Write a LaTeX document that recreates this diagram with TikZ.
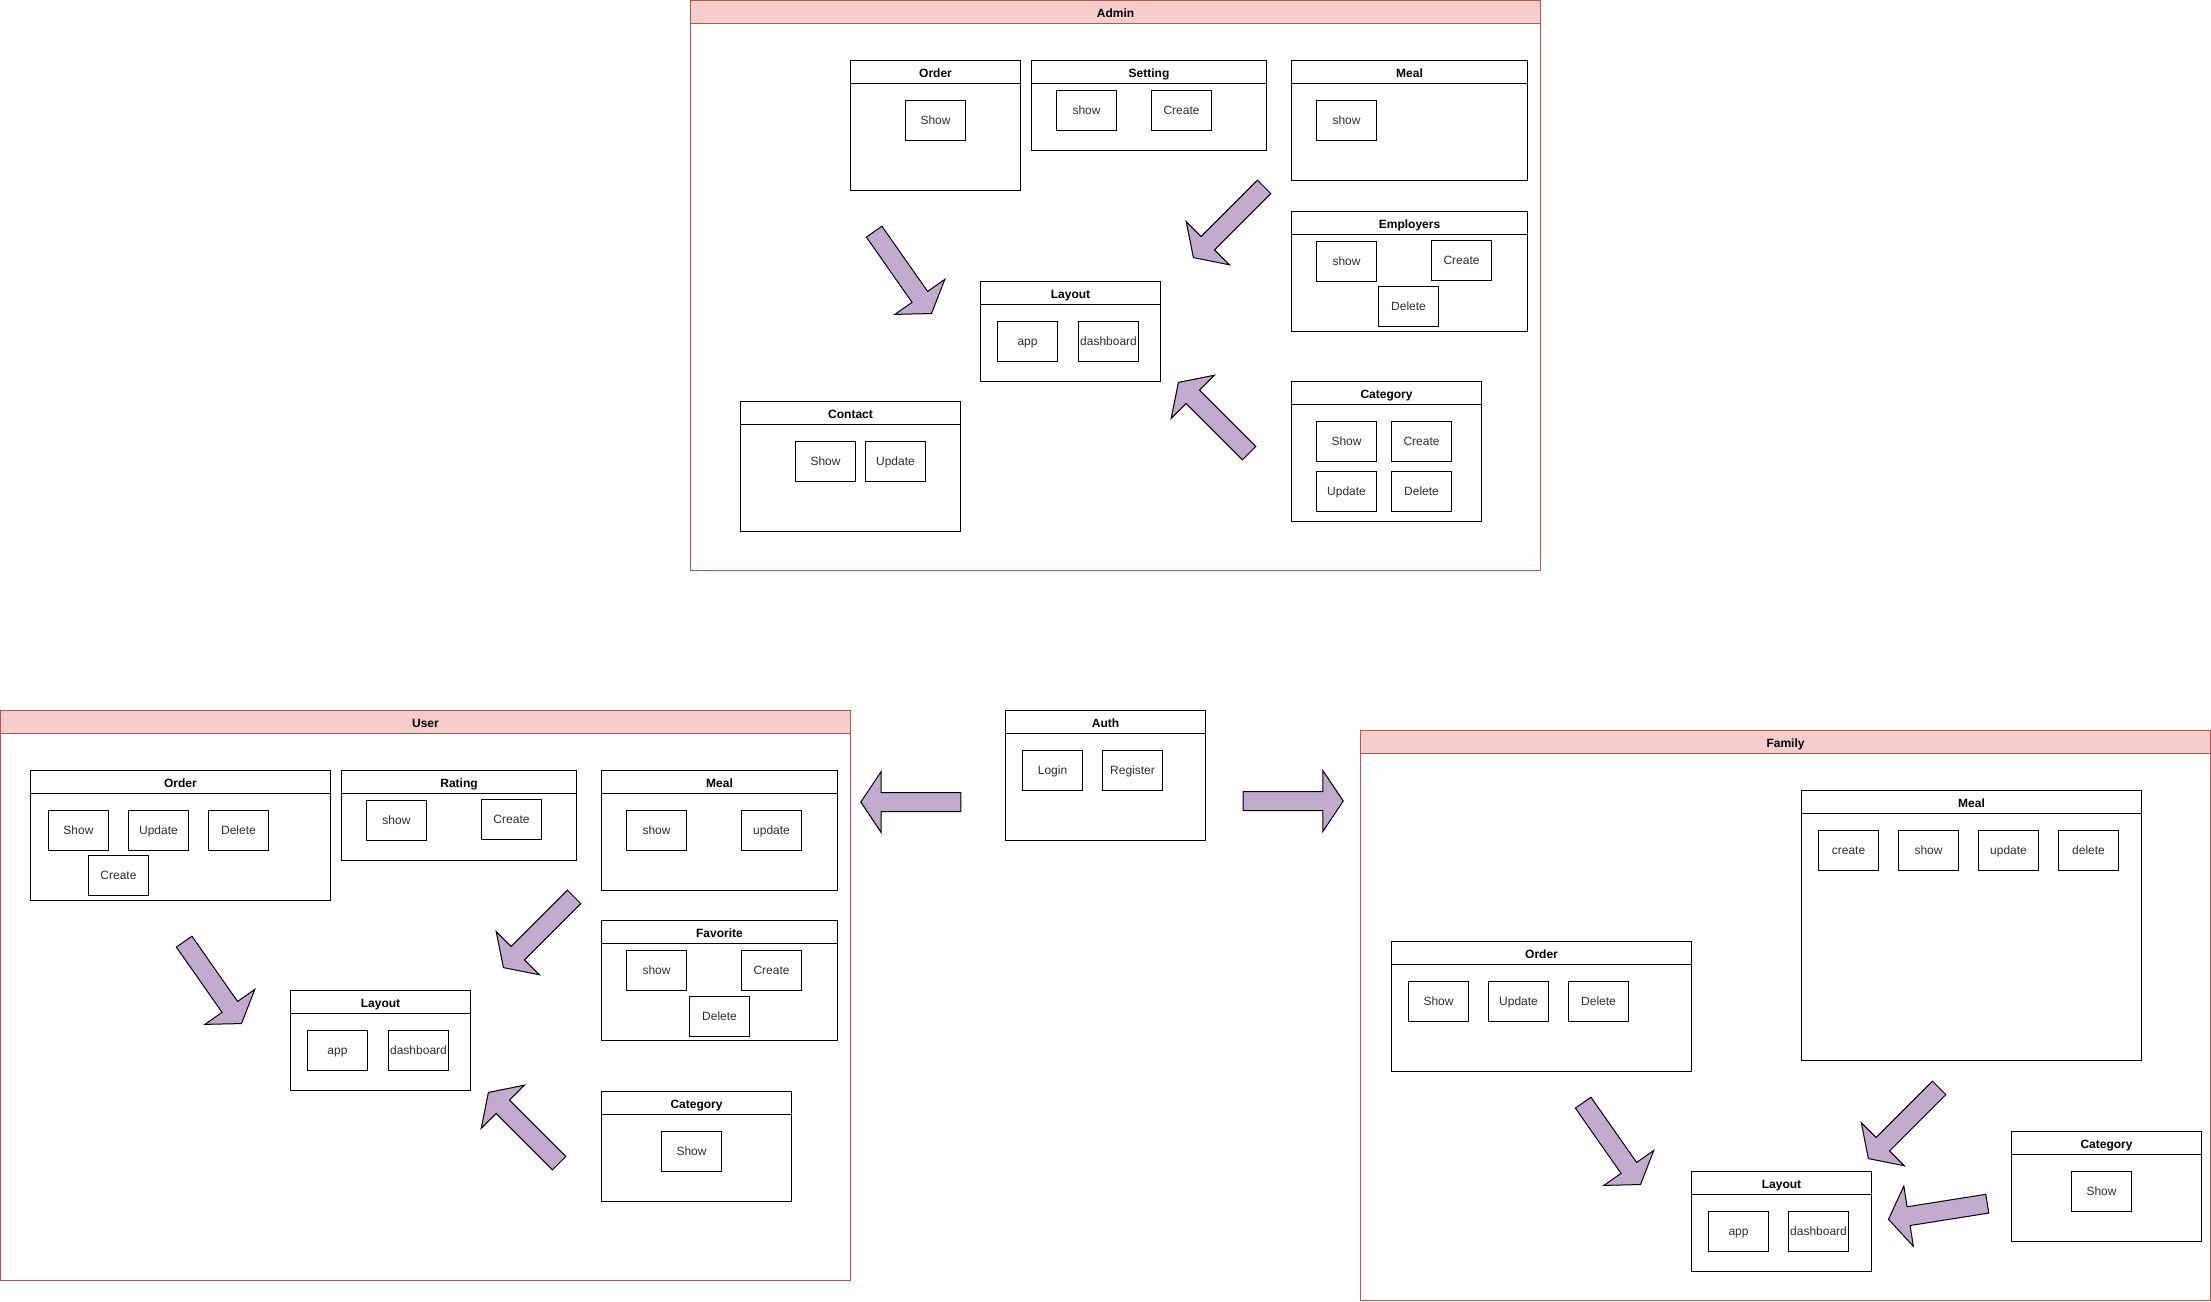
\documentclass[tikz,border=0pt]{standalone}
\usepackage{fontspec}
\setmainfont{Liberation Sans}
\usepackage{tikz}
\usetikzlibrary{shapes.arrows}
\usepackage{xcolor}
\definecolor{ColFrame}{RGB}{184,84,80}
\definecolor{ColHead}{RGB}{248,206,204}
\definecolor{ColArrow}{RGB}{195,171,208}
\definecolor{ColItem}{RGB}{45,45,45}
\tikzstyle{Frame}=[draw=ColFrame,anchor=north west,inner sep=0pt,minimum width=850pt,
minimum height=570pt]
\tikzstyle{FrameHead}=[draw=ColFrame,fill=ColHead,anchor=north west,inner sep=0pt,
minimum width=850pt,minimum height=23pt,text height=10pt,text depth=0pt,
font=\fontsize{12}{14}\selectfont\bfseries]
\tikzstyle{Lane}=[draw=black,anchor=north west,inner sep=0pt]
\tikzstyle{LaneHead}=[draw=black,anchor=north west,inner sep=0pt,minimum height=23pt,
text height=10pt,text depth=0pt,font=\fontsize{12}{14}\selectfont\bfseries]
\tikzstyle{Item}=[draw=black,anchor=north west,inner sep=0pt,minimum width=60pt,
minimum height=40pt,text height=8pt,text depth=0pt,text=ColItem]
\tikzstyle{BlockArrow}=[single arrow,draw=black,fill=ColArrow,inner xsep=0pt,
inner ysep=9pt,minimum height=100pt,single arrow head extend=21pt,
single arrow tip angle=112.6]

\begin{document}
\begin{tikzpicture}[x=1pt,y=-1pt,line width=1pt,font=\fontsize{12}{14}\selectfont]
        \useasboundingbox (0,0) rectangle (2211,1301);
        % Admin
        \node[Frame](admin)at(690,0){};
        \node[FrameHead](adminT)at(admin.north west){Admin};
        \node[Lane,minimum width=170pt,minimum height=130pt](aOrder)at(850,60){};
        \node[LaneHead,minimum width=170pt](aOrderT)at(aOrder.north west){Order};
        \node[Item](aOrderShow)at(905,100){Show};
        \node[Lane,minimum width=235pt,minimum height=90pt](aSetting)at(1031,60){};
        \node[LaneHead,minimum width=235pt](aSettingT)at(aSetting.north west){Setting};
        \node[Item](aSettingShow)at(1056,90){show};
        \node[Item](aSettingCreate)at(1151,90){Create};
        \node[Lane,minimum width=236pt,minimum height=120pt](aMeal)at(1291,60){};
        \node[LaneHead,minimum width=236pt](aMealT)at(aMeal.north west){Meal};
        \node[Item](aMealShow)at(1316,100){show};
        \node[Lane,minimum width=236pt,minimum height=120pt](aEmp)at(1291,211){};
        \node[LaneHead,minimum width=236pt](aEmpT)at(aEmp.north west){Employers};
        \node[Item](aEmpShow)at(1316,241){show};
        \node[Item](aEmpCreate)at(1431,240){Create};
        \node[Item](aEmpDelete)at(1378,286){Delete};
        \node[Lane,minimum width=180pt,minimum height=100pt](aLayout)at(980,281){};
        \node[LaneHead,minimum width=180pt](aLayoutT)at(aLayout.north west){Layout};
        \node[Item](aLayoutApp)at(997,321){app};
        \node[Item](aLayoutDash)at(1078,321){dashboard};
        \node[Lane,minimum width=220pt,minimum height=130pt](aContact)at(740,401){};
        \node[LaneHead,minimum width=220pt](aContactT)at(aContact.north west){Contact};
        \node[Item](aContactShow)at(795,441){Show};
        \node[Item](aContactUpdate)at(865,441){Update};
        \node[Lane,minimum width=190pt,minimum height=140pt](aCat)at(1291,381){};
        \node[LaneHead,minimum width=190pt](aCatT)at(aCat.north west){Category};
        \node[Item](aCatShow)at(1316,421){Show};
        \node[Item](aCatCreate)at(1391,421){Create};
        \node[Item](aCatUpdate)at(1316,471){Update};
        \node[Item](aCatDelete)at(1391,471){Delete};
        \node[BlockArrow,rotate=-55](aArrOrder)at(901,270){};
        \node[BlockArrow,rotate=-135](aArrMeal)at(1231,220){};
        \node[BlockArrow,rotate=135](aArrCat)at(1216,420){};
        % User
        \node[Frame](user)at(0,710){};
        \node[FrameHead](userT)at(user.north west){User};
        \node[Lane,minimum width=300pt,minimum height=130pt](uOrder)at(30,770){};
        \node[LaneHead,minimum width=300pt](uOrderT)at(uOrder.north west){Order};
        \node[Item](uOrderShow)at(48,810){Show};
        \node[Item](uOrderUpdate)at(128,810){Update};
        \node[Item](uOrderDelete)at(208,810){Delete};
        \node[Item](uOrderCreate)at(88,855){Create};
        \node[Lane,minimum width=235pt,minimum height=90pt](uRating)at(341,770){};
        \node[LaneHead,minimum width=235pt](uRatingT)at(uRating.north west){Rating};
        \node[Item](uRatingShow)at(366,800){show};
        \node[Item](uRatingCreate)at(481,799){Create};
        \node[Lane,minimum width=236pt,minimum height=120pt](uMeal)at(601,770){};
        \node[LaneHead,minimum width=236pt](uMealT)at(uMeal.north west){Meal};
        \node[Item](uMealShow)at(626,810){show};
        \node[Item](uMealUpdate)at(741,810){update};
        \node[Lane,minimum width=236pt,minimum height=120pt](uFav)at(601,920){};
        \node[LaneHead,minimum width=236pt](uFavT)at(uFav.north west){Favorite};
        \node[Item](uFavShow)at(626,950){show};
        \node[Item](uFavCreate)at(741,950){Create};
        \node[Item](uFavDelete)at(689,996){Delete};
        \node[Lane,minimum width=180pt,minimum height=100pt](uLayout)at(290,990){};
        \node[LaneHead,minimum width=180pt](uLayoutT)at(uLayout.north west){Layout};
        \node[Item](uLayoutApp)at(307,1030){app};
        \node[Item](uLayoutDash)at(388,1030){dashboard};
        \node[Lane,minimum width=190pt,minimum height=110pt](uCat)at(601,1091){};
        \node[LaneHead,minimum width=190pt](uCatT)at(uCat.north west){Category};
        \node[Item](uCatShow)at(661,1131){Show};
        \node[BlockArrow,rotate=-55](uArrOrder)at(211,980){};
        \node[BlockArrow,rotate=-135](uArrMeal)at(541,930){};
        \node[BlockArrow,rotate=135](uArrCat)at(526,1130){};
        % Auth
        \node[Lane,minimum width=200pt,minimum height=130pt](auth)at(1005,710){};
        \node[LaneHead,minimum width=200pt](authT)at(auth.north west){Auth};
        \node[Item](authLogin)at(1022,750){Login};
        \node[Item](authRegister)at(1102,750){Register};
        \node[BlockArrow,rotate=180](authArrUser)at(914,802){};
        \node[BlockArrow](authArrFamily)at(1290,801){};
        % Family
        \node[Frame](family)at(1360,730){};
        \node[FrameHead](familyT)at(family.north west){Family};
        \node[Lane,minimum width=340pt,minimum height=270pt](fMeal)at(1801,790){};
        \node[LaneHead,minimum width=340pt](fMealT)at(fMeal.north west){Meal};
        \node[Item](fMealCreate)at(1818,830){create};
        \node[Item](fMealShow)at(1898,830){show};
        \node[Item](fMealUpdate)at(1978,830){update};
        \node[Item](fMealDelete)at(2058,830){delete};
        \node[Lane,minimum width=300pt,minimum height=130pt](fOrder)at(1391,941){};
        \node[LaneHead,minimum width=300pt](fOrderT)at(fOrder.north west){Order};
        \node[Item](fOrderShow)at(1408,981){Show};
        \node[Item](fOrderUpdate)at(1488,981){Update};
        \node[Item](fOrderDelete)at(1568,981){Delete};
        \node[Lane,minimum width=180pt,minimum height=100pt](fLayout)at(1691,1171){};
        \node[LaneHead,minimum width=180pt](fLayoutT)at(fLayout.north west){Layout};
        \node[Item](fLayoutApp)at(1708,1211){app};
        \node[Item](fLayoutDash)at(1788,1211){dashboard};
        \node[Lane,minimum width=190pt,minimum height=110pt](fCat)at(2011,1131){};
        \node[LaneHead,minimum width=190pt](fCatT)at(fCat.north west){Category};
        \node[Item](fCatShow)at(2071,1171){Show};
        \node[BlockArrow,rotate=-55](fArrOrder)at(1610,1141){};
        \node[BlockArrow,rotate=-135](fArrMeal)at(1906,1121){};
        \node[BlockArrow,rotate=189](fArrCat)at(1941,1211){};
\end{tikzpicture}
\end{document}
